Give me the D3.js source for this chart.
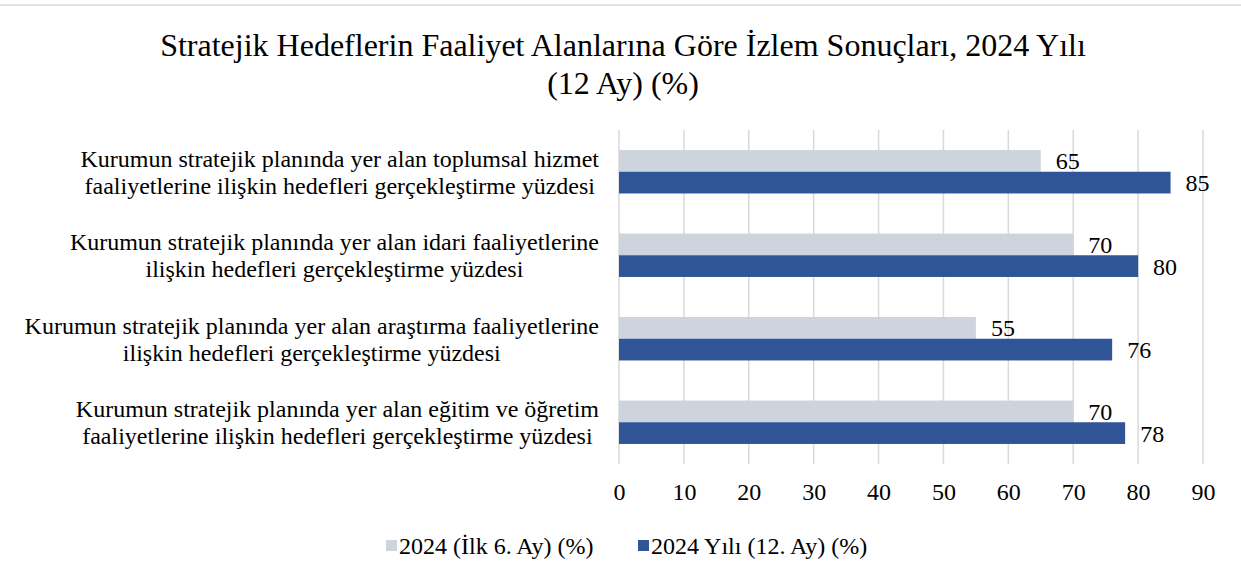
<!DOCTYPE html>
<html>
<head>
<meta charset="utf-8">
<style>
    body { margin: 0; background: #fff; }
    svg text { font-family: "Liberation Serif", "Times New Roman", serif; fill: #000; }
    .grid line { stroke: #d9d9d9; stroke-width: 1.5px; }
</style>
</head>
<body>
<svg id="chart" width="1241" height="574"></svg>
<script src="https://cdn.jsdelivr.net/npm/d3@7"></script>
<script>
// categories, top to bottom
var categories = [
    ["Kurumun stratejik planında yer alan toplumsal hizmet", "faaliyetlerine ilişkin hedefleri gerçekleştirme yüzdesi"],
    ["Kurumun stratejik planında yer alan idari faaliyetlerine", "ilişkin hedefleri gerçekleştirme yüzdesi"],
    ["Kurumun stratejik planında yer alan araştırma faaliyetlerine", "ilişkin hedefleri gerçekleştirme yüzdesi"],
    ["Kurumun stratejik planında yer alan eğitim ve öğretim", "faaliyetlerine ilişkin hedefleri gerçekleştirme yüzdesi"]
];
var seriesNames = ["2024 (İlk 6. Ay) (%)", "2024 Yılı (12. Ay) (%)"];
var firstHalf = [65, 70, 55, 70];
var fullYear = [85, 80, 76, 78];
var ticks = [0, 10, 20, 30, 40, 50, 60, 70, 80, 90];
var titleLines = ["Stratejik Hedeflerin Faaliyet Alanlarına Göre İzlem Sonuçları, 2024 Yılı", "(12 Ay) (%)"];

var colors = ["#cdd4de", "#2f5597"];
var svg = d3.select("#chart");

// top border
svg.append("line").attr("x1", 0).attr("x2", 1241).attr("y1", 5).attr("y2", 5)
    .attr("stroke", "#d9d9d9").attr("stroke-width", 1.5);

var plot = {left: 619, right: 1203, top: 130, bottom: 464};

var x = d3.scaleLinear().domain([0, 90]).range([plot.left, plot.right]);
var y = d3.scaleBand().domain(d3.range(categories.length))
    .range([plot.top, plot.bottom]).paddingInner(0.48).paddingOuter(0.24);
var sub = d3.scaleBand().domain([0, 1]).range([0, y.bandwidth()]);

// title
svg.append("g").selectAll("text").data(titleLines).enter().append("text")
    .attr("x", 623).attr("y", function(d, i) { return 56 + i * 38; })
    .attr("text-anchor", "middle").style("font-size", "32px")
    .text(function(d) { return d; });

// gridlines
svg.append("g").attr("class", "grid")
    .selectAll("line").data(ticks).enter().append("line")
    .attr("x1", function(d) { return x(d); }).attr("x2", function(d) { return x(d); })
    .attr("y1", plot.top).attr("y2", plot.bottom);

// x tick labels
var xAxis = svg.append("g").attr("transform", "translate(0," + plot.bottom + ")")
    .call(d3.axisBottom(x).tickValues(ticks).tickSize(0).tickPadding(19));
xAxis.select(".domain").remove();
xAxis.selectAll("text").style("font-size", "24px").attr("font-family", null);

// bars
var series = [firstHalf, fullYear];
series.forEach(function(vals, s) {
    var g = svg.append("g");
    g.selectAll("rect").data(vals).enter().append("rect")
        .attr("x", x(0))
        .attr("y", function(d, i) { return y(i) + sub(s); })
        .attr("width", function(d) { return x(d) - x(0); })
        .attr("height", sub.bandwidth())
        .attr("fill", colors[s]);
    g.selectAll("text").data(vals).enter().append("text")
        .attr("x", function(d) { return x(d) + 15; })
        .attr("y", function(d, i) { return y(i) + sub(s) + sub.bandwidth() / 2; })
        .attr("dy", "0.35em").style("font-size", "24px")
        .text(function(d) { return d; });
});

// category labels: lines centred on each other, block right-aligned
var catG = svg.append("g");
categories.forEach(function(lines, i) {
    var t = catG.append("g");
    var cy = y(i) + y.bandwidth() / 2;
    var texts = t.selectAll("text").data(lines).enter().append("text")
        .attr("y", function(d, k) { return cy + (k - (lines.length - 1) / 2) * 27; })
        .attr("dy", "0.35em").attr("text-anchor", "middle").style("font-size", "24px")
        .text(function(d) { return d; });
    var w = d3.max(texts.nodes(), function(n) { return n.getComputedTextLength(); });
    texts.attr("x", 599 - w / 2);
});

// legend
var legX = [386, 638];
seriesNames.forEach(function(name, s) {
    svg.append("rect").attr("x", legX[s]).attr("y", 540).attr("width", 11).attr("height", 11)
        .attr("fill", colors[s]);
    svg.append("text").attr("x", legX[s] + 13).attr("y", 546).attr("dy", "0.35em")
        .style("font-size", "24px").text(name);
});
</script>
</body>
</html>
